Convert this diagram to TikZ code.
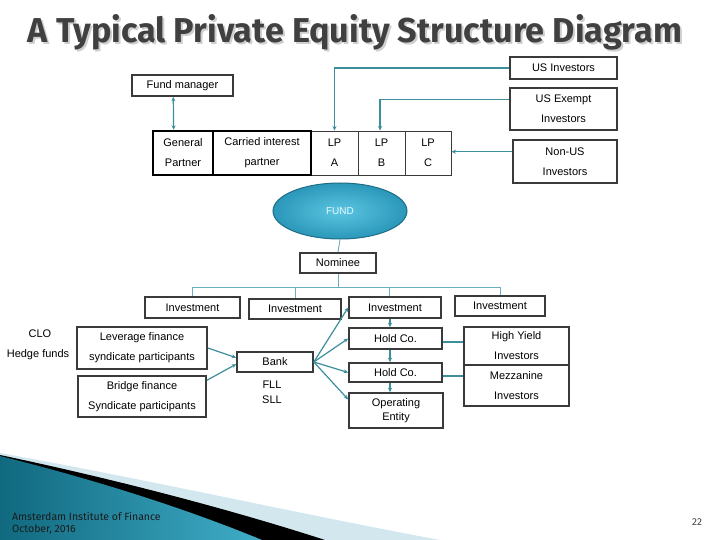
\documentclass[tikz,border=0pt]{standalone}
\usepackage{fontspec}
\setmainfont{Liberation Sans}
\newfontfamily\titlefont{Fira Sans}
\usetikzlibrary{calc,arrows.meta,shapes.geometric}
\definecolor{boxgray}{HTML}{3A3A3A}
\definecolor{conn}{HTML}{3B8E9B}
\definecolor{treecol}{HTML}{6AAFBF}
\definecolor{fundin}{HTML}{5CC6E2}
\definecolor{fundout}{HTML}{2B97B9}
\definecolor{fundedge}{HTML}{1E6C85}
\definecolor{titlecol}{HTML}{404040}
\definecolor{titleshade}{HTML}{CFCFCF}
\definecolor{lightband}{HTML}{D3E7EE}
\definecolor{tealdark}{HTML}{10697F}
\definecolor{teallight}{HTML}{40ADC8}
\definecolor{footcol}{HTML}{1A1A1A}
\begin{document}
\begin{tikzpicture}[x=1pt,y=-1pt,
  txt/.style={font=\fontsize{11}{20}\selectfont, align=center, inner sep=0pt},
  box/.style={txt, draw=boxgray, line width=1.6pt},
  thickbox/.style={txt, draw=black, line width=2.4pt},
  thinbox/.style={txt, draw=boxgray, line width=0.9pt},
  cline/.style={draw=conn, line width=1.2pt},
  arr/.style={cline, -{Stealth[length=4.5pt,width=4pt]}},
  darr/.style={cline, {Stealth[length=4.5pt,width=4pt]}-{Stealth[length=4.5pt,width=4pt]}},
  tline/.style={draw=treecol, line width=0.9pt},
  foot/.style={font=\titlefont\fontsize{10.5}{12}\selectfont, text=footcol, inner sep=0pt, anchor=base west}
]
\useasboundingbox (0,0) rectangle (720,540);

% bottom-left decoration
\fill[lightband] (0,453) .. controls (140,478) and (300,514) .. (440,540) -- (0,540) -- cycle;
\fill[black] (0,455) .. controls (100,476) and (220,506) .. (325,540) -- (0,540) -- cycle;
\shade[left color=tealdark, right color=teallight] (0,456) .. controls (80,476) and (175,504) .. (262,540) -- (0,540) -- cycle;

% title
\node[anchor=base, text=titleshade, inner sep=0pt] (tshadow) at (357,45)
  {\titlefont\bfseries\resizebox{654pt}{28pt}{A Typical Private Equity Structure Diagram}};
\node[anchor=base, text=titlecol, inner sep=0pt] (title) at (355,43)
  {\titlefont\bfseries\resizebox{654pt}{28pt}{A Typical Private Equity Structure Diagram}};

% top boxes
\node[box, minimum width=107pt, minimum height=22pt] (usinv) at (563.5,68) {US Investors};
\node[box, minimum width=101pt, minimum height=21pt] (fundmgr) at (182.5,85.5) {Fund manager};
\node[box, minimum width=107pt, minimum height=42pt] (usex) at (563.5,109) {US Exempt\\Investors};
\node[box, minimum width=104pt, minimum height=43pt] (nonus) at (565,161.5) {Non-US\\Investors};

% partnership row
\node[thinbox, minimum width=47pt, minimum height=44pt] (lpa) at (334.5,153) {LP\\A};
\node[thinbox, minimum width=47pt, minimum height=44pt] (lpb) at (381.5,153) {LP\\B};
\node[thinbox, minimum width=46pt, minimum height=44pt] (lpc) at (428,153) {LP\\C};
\node[thickbox, minimum width=60pt, minimum height=44pt] (gp) at (183,153) {General\\Partner};
\node[thickbox, minimum width=98pt, minimum height=44pt] (cip) at (262,153) {Carried interest\\partner};

% top connectors
\draw[darr] ($(fundmgr.south west)!0.41!(fundmgr.south east)$) -- ($(gp.north west)!0.35!(gp.north east)$);
\draw[arr] (usinv.west) -| (lpa.north);
\draw[arr] ($(usex.north west)!0.29!(usex.south west)$) -| ($(lpb.north west)!0.47!(lpb.north east)$);
\coordinate (nonusl) at ($(nonus.north west)!0.28!(nonus.south west)$);
\draw[arr] (nonusl) -- (nonusl -| lpc.east);

% fund and nominee
\node[ellipse, minimum width=134pt, minimum height=56pt, inner color=fundin, outer color=fundout,
  draw=fundedge, line width=1pt, text=white!92!cyan, font=\fontsize{10}{12}\selectfont] (fund) at (340,211) {FUND};
\node[box, minimum width=76pt, minimum height=20pt] (nominee) at (338,263) {Nominee};
\draw[tline] (fund.south) -- (nominee.north);

% investments
\node[box, minimum width=95pt, minimum height=21pt] (inv1) at (192.5,307.5) {Investment};
\node[box, minimum width=92pt, minimum height=20pt] (inv2) at (295,309) {Investment};
\node[box, minimum width=92pt, minimum height=21pt] (inv3) at (395,307.5) {Investment};
\node[box, minimum width=90pt, minimum height=20pt] (inv4) at (500,306) {Investment};

\coordinate (bus) at (0,287);
\coordinate (inv3top) at ($(inv3.north west)!0.445!(inv3.north east)$);
\draw[tline] (nominee.south) -- (nominee.south |- bus);
\draw[tline] (inv1.north) -- (inv1.north |- bus) -- (inv4.north |- bus) -- (inv4.north);
\draw[tline] (inv2.north) -- (inv2.north |- bus);
\draw[tline] (inv3top) -- (inv3top |- bus);

% left side
\node[txt] (clo) at (40,334) {CLO};
\node[txt] (hedge) at (38,355) {Hedge funds};
\node[box, minimum width=130pt, minimum height=42pt] (lev) at (142,348) {Leverage finance\\syndicate participants};
\node[box, minimum width=128pt, minimum height=41pt] (bridge) at (142,396.5) {Bridge finance\\Syndicate participants};
\node[box, minimum width=76pt, minimum height=20pt] (bank) at (275,362) {Bank};
\node[txt] (fll) at (272,385) {FLL};
\node[txt] (sll) at (272,400) {SLL};

% right column
\node[box, minimum width=93pt, minimum height=21pt] (hold1) at (395.5,338.5) {Hold Co.};
\node[box, minimum width=93pt, minimum height=19pt] (hold2) at (395.5,372.5) {Hold Co.};
\node[box, minimum width=94pt, minimum height=35pt, font=\fontsize{11}{14}\selectfont] (opent) at (396,410.5) {Operating\\Entity};
\node[box, minimum width=105pt, minimum height=38pt] (hy) at (516.5,346) {High Yield\\Investors};
\node[box, minimum width=105pt, minimum height=41pt] (mez) at (516.5,385.5) {Mezzanine\\Investors};

% bank connectors
\draw[arr] (lev.east) -- ($(bank.north west)!0.3!(bank.south west)$);
\draw[arr] ($(bridge.north east)!0.12!(bridge.south east)$) -- ($(bank.north west)!0.6!(bank.south west)$);
\draw[arr] (bank.east) -- (inv3.west);
\draw[arr] (bank.east) -- (hold1.west);
\draw[arr] (bank.east) -- (hold2.west);
\draw[arr] (bank.east) -- ($(opent.north west)!0.2!(opent.south west)$);

% vertical chain
\coordinate (vx) at (390,0);
\draw[arr] (inv3.south -| vx) -- (hold1.north -| vx);
\draw[arr] (hold1.south -| vx) -- (hold2.north -| vx);
\draw[arr] (hold2.south -| vx) -- (opent.north -| vx);

% links to investors
\coordinate (h1r) at ($(hold1.east)+(0,3.5)$);
\coordinate (h2r) at ($(hold2.east)+(0,3.5)$);
\draw[cline] (h1r) -- (h1r -| hy.west);
\draw[cline] (h2r) -- (h2r -| mez.west);

% footer
\node[foot] (inst) at (12,520) {Amsterdam Institute of Finance};
\node[foot] (date) at (12,532) {October, 2016};
\node[font=\titlefont\fontsize{10}{11}\selectfont, text=titlecol, inner sep=0pt] (page) at (697,522) {22};
\end{tikzpicture}
\end{document}
